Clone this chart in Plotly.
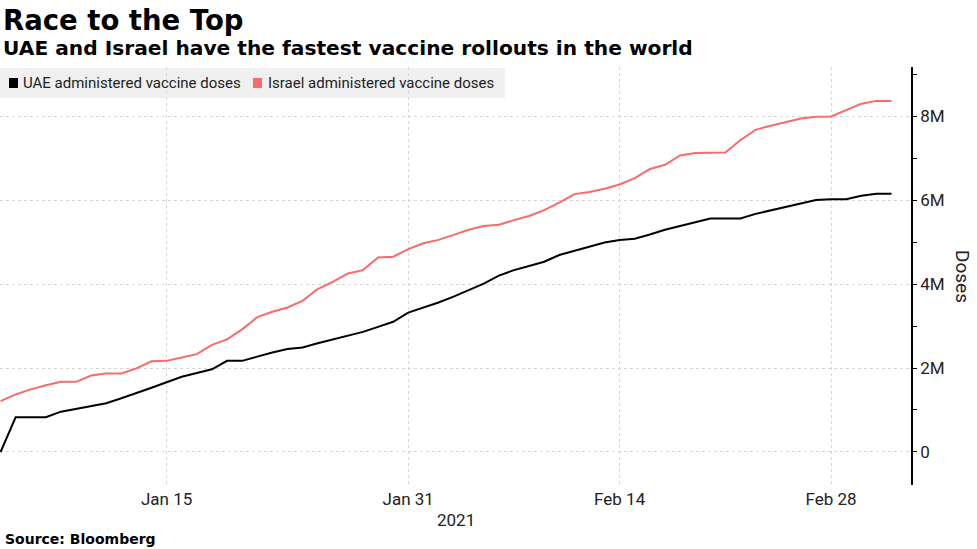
import plotly.graph_objects as go
import pandas as pd

# ---- data (millions of doses) ----
dates = pd.date_range("2021-01-04", "2021-03-04", freq="D")
uae_m = [0, 0.826, 0.826, 0.826, 0.96, 1.03, 1.09, 1.16, 1.28, 1.40,
         1.53, 1.66, 1.79, 1.88, 1.97, 2.17, 2.17, 2.27, 2.37, 2.45,
         2.49, 2.59, 2.68, 2.77, 2.86, 2.98, 3.10, 3.32, 3.44, 3.56,
         3.70, 3.86, 4.01, 4.20, 4.33, 4.43, 4.53, 4.69, 4.79, 4.90,
         4.99, 5.05, 5.08, 5.18, 5.29, 5.38, 5.47, 5.56, 5.56, 5.56,
         5.67, 5.75, 5.84, 5.92, 6.00, 6.02, 6.02, 6.10, 6.15, 6.15]
israel_m = [1.21, 1.37, 1.49, 1.59, 1.67, 1.67, 1.82, 1.87, 1.87, 1.99,
            2.16, 2.17, 2.25, 2.33, 2.55, 2.68, 2.92, 3.21, 3.34, 3.44,
            3.60, 3.88, 4.05, 4.25, 4.33, 4.63, 4.65, 4.83, 4.97, 5.05,
            5.17, 5.29, 5.38, 5.41, 5.52, 5.62, 5.76, 5.94, 6.14, 6.19,
            6.27, 6.37, 6.52, 6.74, 6.84, 7.06, 7.12, 7.13, 7.13, 7.43,
            7.67, 7.77, 7.85, 7.94, 7.98, 7.99, 8.14, 8.29, 8.36, 8.36]
x_tick_vals = ["2021-01-15", "2021-01-31", "2021-02-14", "2021-02-28"]
x_tick_text = ["Jan 15", "Jan 31", "Feb 14", "Feb 28"]
y_tick_vals = [0, 2e6, 4e6, 6e6, 8e6]
y_tick_text = ["0", "2M", "4M", "6M", "8M"]
series_names = ["UAE administered vaccine doses", "Israel administered vaccine doses"]
series_colors = ["#000000", "#f96a6a"]

W, H = 977, 549
L, R, T, B = 0, 66, 67, 64
plot_w = W - L - R
plot_h = H - T - B

def px_x(p):
    return (p - L) / plot_w

def px_y(p):
    return (H - B - p) / plot_h

FONT = "Roboto"
HEAD = "DejaVu Sans"

fig = go.Figure()
for name, vals, col in zip(series_names, [uae_m, israel_m], series_colors):
    fig.add_trace(go.Scatter(
        x=dates, y=[v * 1e6 for v in vals], name=name, mode="lines",
        line=dict(color=col, width=2), showlegend=False,
        hovertemplate="%{x|%b %d}: %{y:,.0f}<extra>" + name + "</extra>"))

grid = dict(showgrid=True, gridcolor="#d6d6d6", griddash="dot", gridwidth=1)

fig.update_layout(
    width=W, height=H,
    margin=dict(l=L, r=R, t=T, b=B),
    paper_bgcolor="white", plot_bgcolor="white",
    font=dict(family=FONT, color="#1a1a1a"),
    xaxis=dict(
        type="date",
        range=["2021-01-03 23:10", "2021-03-05 07:00"],
        tickvals=x_tick_vals, ticktext=x_tick_text,
        tickfont=dict(size=17, family=FONT, color="#222"),
        ticks="", showline=False, zeroline=False,
        ticklabelstandoff=2,
        **grid),
    yaxis=dict(
        side="right",
        range=[-0.786e6, 9.167e6],
        tickvals=y_tick_vals, ticktext=y_tick_text,
        tickfont=dict(size=17, family=FONT, color="#222"),
        ticks="outside", ticklen=4, tickwidth=1, tickcolor="#000",
        showline=True, linecolor="#000", linewidth=1.5,
        zeroline=False,
        minor=dict(dtick=1e6, tick0=0, ticks="outside", ticklen=4,
                   tickcolor="#000", showgrid=False),
        **grid),
)

# legend (custom, gray box with square swatches)
fig.add_shape(type="rect", xref="paper", yref="paper",
              x0=0, x1=px_x(505), y0=px_y(98), y1=px_y(68),
              fillcolor="#f0f0f0", line=dict(width=0), layer="below")
legend_items = [(9, 21), (253, 266)]
for (sx, tx), name, col in zip(legend_items, series_names, series_colors):
    fig.add_shape(type="rect", xref="paper", yref="paper",
                  x0=px_x(sx), x1=px_x(sx + 9), y0=px_y(88), y1=px_y(78),
                  fillcolor=col, line=dict(width=0))
    fig.add_annotation(x=px_x(tx), y=px_y(83), xref="paper", yref="paper",
                       text=name, showarrow=False, xanchor="left", yanchor="middle",
                       font=dict(size=15, family=FONT, color="#222"))

# titles
fig.add_annotation(x=px_x(1), y=px_y(20), xref="paper", yref="paper",
                   text="<b>Race to the Top</b>", showarrow=False,
                   xanchor="left", yanchor="middle",
                   font=dict(size=27.5, family=HEAD, color="#000"))
fig.add_annotation(x=px_x(1), y=px_y(48), xref="paper", yref="paper",
                   text="<b>UAE and Israel have the fastest vaccine rollouts in the world</b>",
                   showarrow=False, xanchor="left", yanchor="middle",
                   font=dict(size=20.2, family=HEAD, color="#000"))
# year label and axis title
fig.add_annotation(x=0.5, y=px_y(520), xref="paper", yref="paper",
                   text="2021", showarrow=False, xanchor="center", yanchor="middle",
                   font=dict(size=17, family=FONT, color="#222"))
fig.add_annotation(x=px_x(963), y=px_y(276), xref="paper", yref="paper",
                   text="Doses", textangle=90, showarrow=False,
                   xanchor="center", yanchor="middle",
                   font=dict(size=19, family=FONT, color="#222"))
fig.add_annotation(x=px_x(3), y=px_y(539), xref="paper", yref="paper",
                   text="<b>Source: Bloomberg</b>", showarrow=False,
                   xanchor="left", yanchor="middle",
                   font=dict(size=14, family=HEAD, color="#000"))

fig.write_html("out.html",
               config={"displayModeBar": False},
               post_script="document.body.style.margin='0';document.body.style.overflow='hidden';")
